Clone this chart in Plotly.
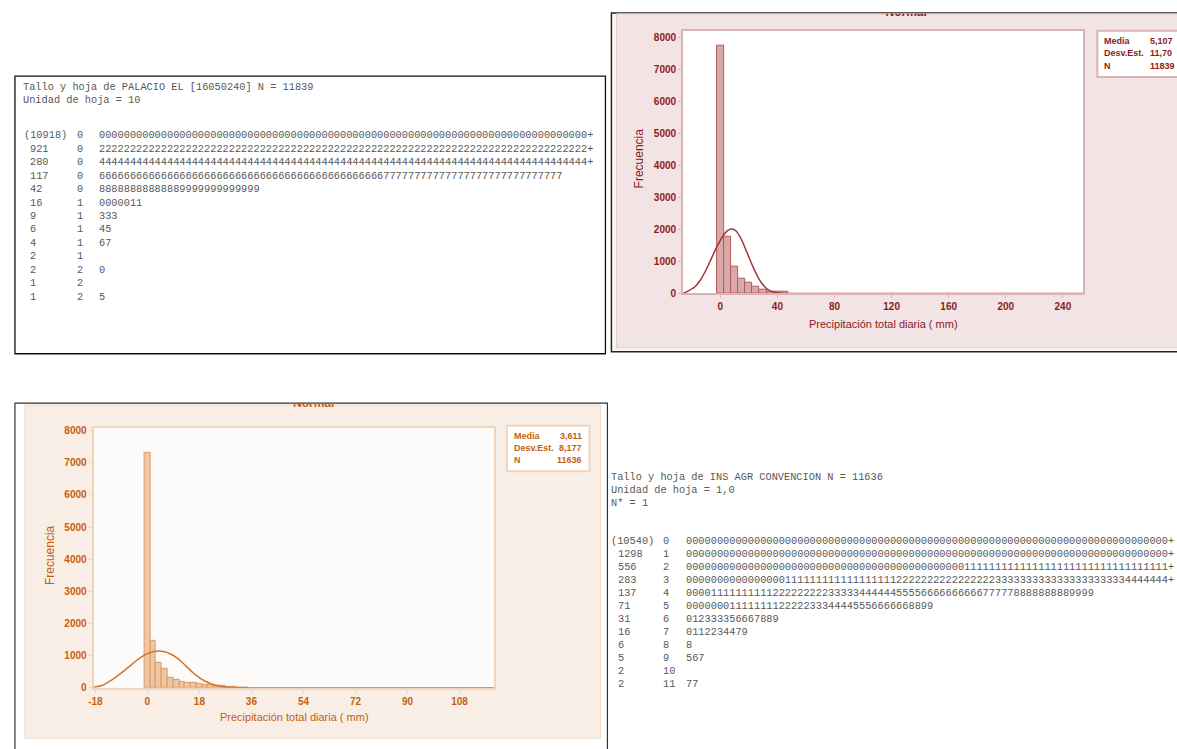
import plotly.graph_objects as go

W, H = 1177, 749


def px(x):
    return x / W


def py(y):
    return 1 - y / H


# ---------------- data: stem-and-leaf PALACIO EL (top-left) ----------------
A_header = ["Tallo y hoja de PALACIO EL [16050240] N = 11839", "Unidad de hoja = 10"]
A_depth = ["(10918)", "921", "280", "117", "42", "16", "9", "6", "4", "2", "2", "1", "1"]
A_stem = ["0", "0", "0", "0", "0", "1", "1", "1", "1", "1", "2", "2", "2"]
A_leaves = [
    "0" * 79 + "+",
    "2" * 79 + "+",
    "4" * 79 + "+",
    "6" * 46 + "7" * 29,
    "8" * 13 + "9" * 13,
    "0000011",
    "333",
    "45",
    "67",
    "",
    "0",
    "",
    "5",
]

# ---------------- data: stem-and-leaf INS AGR CONVENCION (bottom-right) ----------------
D_header = ["Tallo y hoja de INS AGR CONVENCION N = 11636", "Unidad de hoja = 1,0", "N* = 1"]
D_depth = ["(10540)", "1298", "556", "283", "137", "71", "31", "16", "6", "5", "2", "2"]
D_stem = ["0", "1", "2", "3", "4", "5", "6", "7", "8", "9", "10", "11"]
D_leaves = [
    "0" * 78 + "+",
    "0" * 78 + "+",
    "0" * 45 + "1" * 33 + "+",
    "0" * 16 + "1" * 18 + "2" * 16 + "3" * 21 + "4" * 7 + "+",
    "0000" + "1" * 10 + "2" * 9 + "3" * 5 + "4" * 6 + "5" * 4 + "6" * 10 + "7" * 5 + "8" * 9 + "9" * 4,
    "0" * 7 + "1" * 8 + "2" * 5 + "333" + "4444" + "555" + "6" * 6 + "88" + "99",
    "012333356667889",
    "0112234479",
    "8",
    "567",
    "",
    "77",
]

# ---------------- data: histogram PALACIO EL (top-right) ----------------
B_centers = [0, 5, 10, 15, 20, 25, 30, 35, 40, 45]
B_counts = [7740, 1760, 840, 450, 330, 210, 120, 65, 55, 45]
B_curve_x = [-26.1, -22, -18, -14, -10, -6, -2, 2, 5, 8, 11, 14, 17, 20, 23, 26, 29, 32, 35, 38, 42, 48, 254.4]
B_curve_y = [0, 90, 200, 420, 740, 1120, 1500, 1800, 1960, 2010, 1950, 1750, 1460, 1130, 820, 540, 320, 170, 80, 35, 10, 0, 0]
B_yticks = [0, 1000, 2000, 3000, 4000, 5000, 6000, 7000, 8000]
B_xticks = [0, 40, 80, 120, 160, 200, 240]
B_stats = [("Media", "5,107"), ("Desv.Est.", "11,70"), ("N", "11839")]

# ---------------- data: histogram INS AGR CONVENCION (bottom-left) ----------------
C_centers = [0, 2, 4, 6, 8, 10, 12, 14, 16, 18, 20, 22, 24, 26, 28, 30, 32, 34]
C_counts = [7300, 1470, 780, 590, 300, 250, 180, 155, 150, 130, 100, 80, 60, 45, 25, 15, 10, 6]
C_curve_x = [-18.6, -16, -14, -12, -10, -8, -6, -4, -2, 0, 2, 4, 6, 8, 10, 12, 14, 16, 18, 20, 22, 24, 26, 28, 31, 35, 119.9]
C_curve_y = [15, 60, 150, 260, 390, 530, 680, 830, 960, 1060, 1120, 1140, 1120, 1050, 940, 790, 620, 450, 310, 200, 120, 65, 32, 15, 5, 0, 0]
C_yticks = [0, 1000, 2000, 3000, 4000, 5000, 6000, 7000, 8000]
C_xticks = [-18, 0, 18, 36, 54, 72, 90, 108]
C_stats = [("Media", "3,611"), ("Desv.Est.", "8,177"), ("N", "11636")]

TITLE = "Normal"
X_TITLE = "Precipitación total diaria ( mm)"
Y_TITLE = "Frecuencia"

# colours
RED_TXT = "#8a1c1c"
RED_BAR = "#d9a8a8"
RED_EDGE = "#b25c5c"
RED_LINE = "#a53434"
RED_FRAME = "#dcb3b3"
PINK_BG = "#f2e4e4"

OR_TXT = "#c45f0f"
OR_BAR = "#f0c7a4"
OR_EDGE = "#d99a66"
OR_LINE = "#cc7530"
OR_FRAME = "#f0d4bb"
CREAM_BG = "#f8eee5"

MONO = "Liberation Mono"
SANS = "Liberation Sans"

fig = go.Figure()

# histogram B
fig.add_trace(go.Bar(x=B_centers, y=B_counts, width=5, xaxis="x", yaxis="y",
                     marker=dict(color=RED_BAR, line=dict(color=RED_EDGE, width=1))))
fig.add_trace(go.Scatter(x=B_curve_x, y=B_curve_y, mode="lines", xaxis="x", yaxis="y",
                         line=dict(color=RED_LINE, width=1.5, shape="spline", smoothing=0.7)))
# histogram C
fig.add_trace(go.Bar(x=C_centers, y=C_counts, width=2, xaxis="x2", yaxis="y2",
                     marker=dict(color=OR_BAR, line=dict(color=OR_EDGE, width=1))))
fig.add_trace(go.Scatter(x=C_curve_x, y=C_curve_y, mode="lines", xaxis="x2", yaxis="y2",
                         line=dict(color=OR_LINE, width=1.5, shape="spline", smoothing=0.7)))

# chart titles, cut off by the panel frames (clipped to thin strips)
fig.add_trace(go.Scatter(x=[0.5], y=[1.15], mode="text", text=[TITLE], xaxis="x3", yaxis="y3",
                         textposition="middle center", cliponaxis=True, hoverinfo="skip",
                         textfont=dict(family=SANS, size=12, color=RED_TXT, weight="bold")))
fig.add_trace(go.Scatter(x=[0.5], y=[1.0], mode="text", text=[TITLE], xaxis="x4", yaxis="y4",
                         textposition="middle center", cliponaxis=True, hoverinfo="skip",
                         textfont=dict(family=SANS, size=12, color=OR_TXT, weight="bold")))

shapes = []


def rect(x0, y0, x1, y1, fill, line_color, lw):
    shapes.append(dict(type="rect", xref="paper", yref="paper", layer="below",
                       x0=px(x0), x1=px(x1), y0=py(y1), y1=py(y0),
                       fillcolor=fill, line=dict(color=line_color, width=lw)))


# panel A
rect(10, 74, 603, 355, "white", "#111111", 1.3)
# panel B
rect(609, 10, 1195, 353, "#fbf7f7", "#222222", 1.5)
rect(614, 11, 1195, 349, PINK_BG, "#e4c9c9", 1)
rect(681, 28, 1083, 294, "white", "rgba(0,0,0,0)", 0)
rect(1097, 28, 1195, 75, "white", RED_FRAME, 2)
# panel C
rect(10, 405, 605, 760, "white", "#333333", 1.2)
rect(20, 407, 598, 744, CREAM_BG, "#efd9c5", 1)
rect(89, 430, 491, 693, "#fdfbf9", "rgba(0,0,0,0)", 0)
rect(504, 428, 587, 474, "white", OR_FRAME, 2)

ann = []


def text(x, y, s, size=10.3, color="#585858", family=MONO, anchor="left", weight="normal", angle=0):
    ann.append(dict(x=px(x), y=py(y), xref="paper", yref="paper", showarrow=False,
                    text=s.replace(" ", "\u00a0"), xanchor=anchor, yanchor="middle",
                    textangle=angle,
                    font=dict(family=family, size=size, color=color, weight=weight)))


# stem-and-leaf A
PITCH = 6.18
text(16, 85, A_header[0])
text(16, 98, A_header[1])
for i, (d, s, lv) in enumerate(zip(A_depth, A_stem, A_leaves)):
    yy = 134 + 13.6 * i
    text(17 if d.startswith("(") else 17 + PITCH, yy, d)
    text(70, yy, s)
    if lv:
        text(92, yy, lv)

# stem-and-leaf D
text(607, 480, D_header[0])
text(607, 493, D_header[1])
text(607, 506, D_header[2])
for i, (d, s, lv) in enumerate(zip(D_depth, D_stem, D_leaves)):
    yy = 545 + 13.1 * i
    text(607 if d.startswith("(") else 607 + PITCH, yy, d)
    text(659, yy, s)
    if lv:
        text(682, yy, lv)

# histogram B texts
text(637, 157, Y_TITLE, size=12, color=RED_TXT, family=SANS, anchor="center", angle=-90)
text(882, 325, X_TITLE, size=11, color=RED_TXT, family=SANS, anchor="center")
for j, (k, v) in enumerate(B_stats):
    text(1102, 38 + 13 * j, k, size=9, color=RED_TXT, family=SANS, weight="bold")
    text(1148, 38 + 13 * j, v, size=9, color=RED_TXT, family=SANS, weight="bold")

# histogram C texts
text(45, 559, Y_TITLE, size=12, color=OR_TXT, family=SANS, anchor="center", angle=-90)
text(291, 723, X_TITLE, size=11, color=OR_TXT, family=SANS, anchor="center")
for j, (k, v) in enumerate(C_stats):
    text(509, 438 + 12.5 * j, k, size=9, color=OR_TXT, family=SANS, weight="bold")
    text(581, 438 + 12.5 * j, v, size=9, color=OR_TXT, family=SANS, weight="bold", anchor="right")


def axis(domain, rng, vals, color, frame, anchor):
    return dict(domain=domain, range=rng, tickvals=vals, ticktext=[str(v) for v in vals],
                showgrid=False, zeroline=False, showline=True, mirror=True,
                linecolor=frame, linewidth=2, ticks="outside", ticklen=3,
                tickcolor=frame, tickwidth=1, anchor=anchor,
                tickfont=dict(family=SANS, size=10, color=color, weight="bold"))


def strip(domain, anchor):
    return dict(domain=domain, range=[0, 1], visible=False, fixedrange=True, anchor=anchor)


fig.update_layout(
    width=W, height=H, margin=dict(l=0, r=0, t=0, b=0),
    paper_bgcolor="white", plot_bgcolor="rgba(0,0,0,0)",
    showlegend=False, bargap=0,
    xaxis=axis([px(681), px(1083)], [-26.1, 254.4], B_xticks, RED_TXT, RED_FRAME, "y"),
    yaxis=axis([py(294), py(28)], [0, 8200], B_yticks, RED_TXT, RED_FRAME, "x"),
    xaxis2=axis([px(89), px(491)], [-18.6, 119.9], C_xticks, OR_TXT, OR_FRAME, "y2"),
    yaxis2=axis([py(693), py(430)], [0, 8090], C_yticks, OR_TXT, OR_FRAME, "x2"),
    xaxis3=strip([px(850), px(960)], "y3"),
    yaxis3=strip([py(16), py(10.8)], "x3"),
    xaxis4=strip([px(255), px(365)], "y4"),
    yaxis4=strip([py(414), py(405.8)], "x4"),
    shapes=shapes, annotations=ann,
)

fig.write_html("out.html")
